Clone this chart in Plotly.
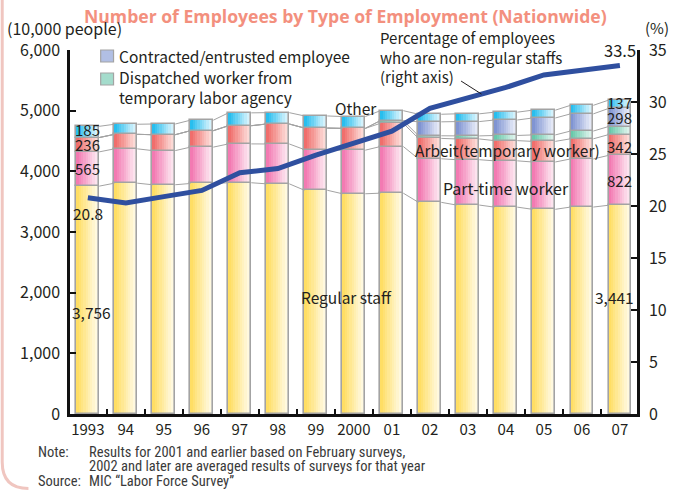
import plotly.graph_objects as go

# ---------------- data ----------------
years = ['1993', '94', '95', '96', '97', '98', '99', '2000', '01',
         '02', '03', '04', '05', '06', '07']
regular = [3756, 3805, 3779, 3800, 3812, 3794, 3688, 3630, 3640, 3489, 3444, 3410, 3374, 3411, 3441]
part_time = [565, 566, 563, 599, 640, 657, 670, 719, 769, 718, 748, 763, 780, 793, 822]
arbeit = [236, 239, 262, 271, 300, 329, 355, 359, 383, 336, 342, 333, 340, 332, 342]
dispatched = [0, 0, 0, 0, 0, 0, 0, 0, 45, 43, 50, 85, 106, 128, 133]
contracted = [0, 0, 0, 0, 0, 0, 0, 0, 0, 230, 236, 255, 279, 283, 298]
other = [185, 166, 176, 173, 212, 187, 200, 195, 163, 125, 128, 129, 129, 141, 137]
pct_nonregular = [20.8, 20.3, 20.9, 21.5, 23.2, 23.6, 24.9, 26.0, 27.2, 29.4, 30.4, 31.4, 32.6, 33.0, 33.5]

# ---------------- styling ----------------
W = 0.6          # bar width (category units)
K = 10           # strips used to imitate horizontal gradient
GRAY = '#a3a3a3'
INK = '#231f20'
JP = 'Noto Sans CJK JP, Noto Sans, sans-serif'
NARROW = 'Liberation Sans Narrow, Roboto Condensed, Liberation Sans, sans-serif'

segments = [
    (regular, (255, 222, 100), (255, 252, 238)),
    (part_time, (243, 122, 178), (253, 240, 246)),
    (arbeit, (240, 110, 108), (253, 230, 226)),
    (dispatched, (104, 200, 170), (232, 247, 242)),
    (contracted, (128, 148, 210), (240, 243, 251)),
    (other, (40, 190, 238), (232, 248, 254)),
]

def mix(c1, c2, t):
    return 'rgb(%d,%d,%d)' % tuple(round(a + (b - a) * t) for a, b in zip(c1, c2))

n = len(years)
xs = list(range(n))
fig = go.Figure()

cum = [0] * n
tops = []
for vals, cl, cr in segments:
    base = list(cum)
    yv = [v if v > 0 else None for v in vals]
    for k in range(K):
        t = k / (K - 1)
        fig.add_bar(x=xs, y=yv, base=base, width=W / K * 1.05, offset=-W / 2 + k * W / K,
                    marker=dict(color=mix(cl, cr, t), line=dict(width=0)),
                    showlegend=False, hoverinfo='skip')
    fig.add_bar(x=xs, y=yv, base=base, width=W, offset=-W / 2,
                marker=dict(color='rgba(0,0,0,0)', line=dict(color=GRAY, width=1.6)),
                showlegend=False, hoverinfo='skip')
    cum = [c + v for c, v in zip(cum, vals)]
    tops.append(list(cum))

# series (connector) lines between bars
lx, ly = [], []
for level in tops:
    for i in range(n - 1):
        lx += [i + W / 2, i + 1 - W / 2, None]
        ly += [level[i], level[i + 1], None]
fig.add_scatter(x=lx, y=ly, mode='lines', line=dict(color=GRAY, width=1),
                showlegend=False, hoverinfo='skip')

# percentage line (right axis)
fig.add_scatter(x=xs, y=pct_nonregular, yaxis='y2', mode='lines',
                line=dict(color='#2f4f9f', width=5), showlegend=False)

# ---------------- layout helpers ----------------
L, R, T, B = 70, 643, 50, 414
def px(x):
    return (x - L) / (R - L)
def py(y):
    return (B - y) / (B - T)

ann = []
def text(x, y, s, size=15, font=JP, color=INK, xanchor='left', yanchor='middle', **kw):
    ann.append(dict(x=px(x), y=py(y), xref='paper', yref='paper', text=s, showarrow=False,
                    font=dict(size=size, family=font, color=color), xanchor=xanchor,
                    yanchor=yanchor, **kw))

# title and units
text(348, 16, '<b>Number of Employees by Type of Employment (Nationwide)</b>', size=17.6,
     font='Open Sans, Noto Sans, sans-serif', color='#f3907e', xanchor='center')
text(4, 28, '(10,000 people)', size=16)
text(649, 28, '(%)', size=15)

# legend (two items)
text(118, 56, 'Contracted/entrusted employee', size=15.5)
text(118, 86.5, 'Dispatched worker from<br>temporary labor agency', size=15.5, align='left')

# line description
text(381, 56.5, 'Percentage of employees<br>who are non-regular staffs<br>(right axis)', size=15,
     align='left')

# category names
text(336, 108, 'Other', size=15.5)
text(417, 150, 'Arbeit(temporary worker)', size=15.5)
text(445, 188, 'Part-time worker', size=16)
text(301, 297, 'Regular staff', size=15.5)

# value labels from data
LBL = dict(size=15, family=JP, color=INK)
first, last = 0, n - 1
for vals, idx, sh in ((part_time, 1, 1), (arbeit, 2, 0), (other, 5, 2)):
    mid = tops[idx][first] - vals[first] / 2
    ann.append(dict(x=first, y=mid, text=str(vals[first]), showarrow=False, yshift=sh, font=LBL))
for vals, idx, sh in ((part_time, 1, 0), (arbeit, 2, -1), (contracted, 4, 0), (other, 5, 2)):
    mid = tops[idx][last] - vals[last] / 2
    ann.append(dict(x=last, y=mid, text=str(vals[last]), showarrow=False, yshift=sh, font=LBL))
text(92, 312, f'{regular[first]:,}', size=15.5, xanchor='center')
text(620, 297, f'{regular[last]:,}', size=15.5, xanchor='center')
ann.append(dict(x=first, y=pct_nonregular[first], yref='y2', text=str(pct_nonregular[first]),
                showarrow=False, yshift=-15, font=dict(size=15.5, family=JP, color=INK)))
ann.append(dict(x=last, y=pct_nonregular[last], yref='y2', text=str(pct_nonregular[last]),
                showarrow=False, yshift=16, font=dict(size=16.5, family=JP, color=INK)))

# leader line from description to the percentage line
lead_i = 10.36
lead_y = pct_nonregular[10] + (pct_nonregular[11] - pct_nonregular[10]) * (lead_i - 10)
ann.append(dict(x=lead_i, y=lead_y, yref='y2', text='', showarrow=True, arrowhead=0,
                arrowwidth=1, arrowcolor=INK, ax=-22, ay=-14))

# notes
NOTE = '#3a3a3a'
text(36, 452, 'Note:', size=14.5, font=NARROW, color=NOTE)
text(87, 452, 'Results for 2001 and earlier based on February surveys,', size=14.5, font=NARROW, color=NOTE)
text(87, 466.5, '2002 and later are averaged results of surveys for that year', size=14.5, font=NARROW, color=NOTE)
text(36, 481, 'Source:', size=14.5, font=NARROW, color=NOTE)
text(87, 481, 'MIC \u201cLabor Force Survey\u201d', size=14.5, font=NARROW, color=NOTE)

# legend swatches
shapes = []
for (y0, c1) in ((50, (140, 160, 215)), (73, (120, 205, 178))):
    shapes.append(dict(type='rect', xref='paper', yref='paper', x0=px(101), x1=px(114),
                       y0=py(y0 + 12), y1=py(y0), fillcolor=mix(c1, (245, 248, 252), 0.35),
                       line=dict(color=GRAY, width=1.2)))
# faint pink page frame at the left / bottom-left corner
shapes.append(dict(type='path', xref='paper', yref='paper',
                   path=f'M {px(1.5)},{py(-5)} L {px(1.5)},{py(462)} Q {px(1.5)},{py(488.5)} {px(28)},{py(488.5)}',
                   line=dict(color='#f0c6c0', width=3)))

axis_font = dict(size=16, family=JP, color=INK)
fig.update_layout(
    width=679, height=490, autosize=False,
    margin=dict(l=L, r=679 - R, t=T, b=490 - B),
    paper_bgcolor='white', plot_bgcolor='white',
    barmode='overlay', bargap=0,
    showlegend=False,
    annotations=ann, shapes=shapes,
    xaxis=dict(range=[-0.47, 14.45], tickmode='array', tickvals=xs, ticktext=years,
               ticks='', showgrid=False, zeroline=False, showline=True,
               linecolor='#111', linewidth=2.5, tickfont=dict(size=15, family=JP, color=INK),
               minor=dict(tickmode='array', tickvals=[i + 0.5 for i in range(n - 1)],
                          ticks='inside', ticklen=5, tickwidth=1.5, tickcolor='#111')),
    yaxis=dict(range=[0, 6000], dtick=1000, tickformat=',d', ticks='inside', ticklen=6,
               tickwidth=2, tickcolor='#111', showgrid=False, zeroline=False, showline=True,
               linecolor='#111', linewidth=2.5, tickfont=axis_font, ticklabelstandoff=4),
    yaxis2=dict(range=[0, 35], dtick=5, overlaying='y', side='right', ticks='inside',
                ticklen=6, tickwidth=2, tickcolor='#111', showgrid=False, zeroline=False,
                showline=True, linecolor='#111', linewidth=2.5, tickfont=axis_font,
                ticklabelstandoff=6),
)

fig.write_html("out.html", config={'displayModeBar': False},
               post_script="document.body.style.margin='0';")
